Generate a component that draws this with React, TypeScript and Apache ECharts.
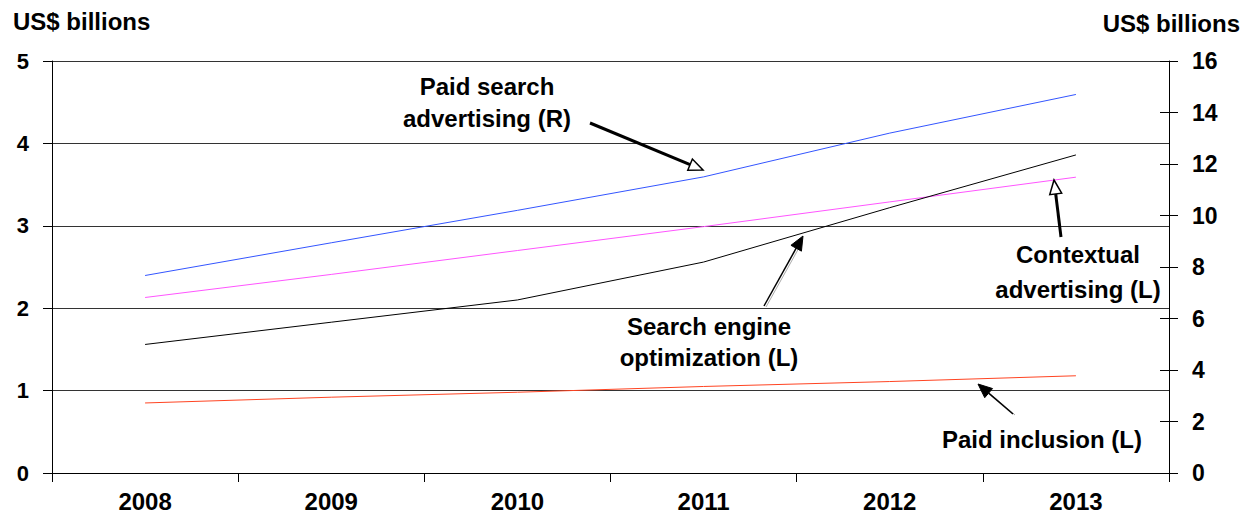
import React, { useEffect, useRef } from "react";
import * as echarts from "echarts";

const years = ["2008", "2009", "2010", "2011", "2012", "2013"];
const paidSearchR = [7.67, 8.94, 10.2, 11.5, 13.2, 14.7];
const contextualL = [2.13, 2.41, 2.7, 2.99, 3.29, 3.59];
const seoL = [1.56, 1.83, 2.1, 2.56, 3.22, 3.86];
const paidInclusionL = [0.85, 0.92, 0.98, 1.05, 1.11, 1.18];

const leftTitle = "US$ billions";
const rightTitle = "US$ billions";
const labelPaidSearch = "Paid search\nadvertising (R)";
const labelContextual = "Contextual\nadvertising (L)";
const labelSeo = "Search engine\noptimization (L)";
const labelPaidInclusion = "Paid inclusion (L)";

const FONT = "'Liberation Sans', Arial, Helvetica, sans-serif";

type Pt = [number, number];

function arrow(tail: Pt, tip: Pt, lw: number, headLen: number, headHalf: number, open: boolean, shadow?: boolean): any[] {
  const dx = tip[0] - tail[0];
  const dy = tip[1] - tail[1];
  const len = Math.sqrt(dx * dx + dy * dy);
  const ux = dx / len;
  const uy = dy / len;
  const px = -uy;
  const py = ux;
  const bx = tip[0] - ux * headLen;
  const by = tip[1] - uy * headLen;
  const els: any[] = [];
  if (shadow) {
    els.push({
      type: "line",
      shape: { x1: tail[0] + 2, y1: tail[1] + 1, x2: bx + 2, y2: by + 1 },
      style: { stroke: "#aaa", lineWidth: 1 },
      z: 99,
    });
  }
  els.push({
    type: "line",
    shape: { x1: tail[0], y1: tail[1], x2: bx, y2: by },
    style: { stroke: "#000", lineWidth: lw },
    z: 100,
  });
  els.push({
    type: "polygon",
    shape: {
      points: [
        [tip[0], tip[1]],
        [bx + px * headHalf, by + py * headHalf],
        [bx - px * headHalf, by - py * headHalf],
      ],
    },
    style: open
      ? { fill: "#fff", stroke: "#000", lineWidth: 1.5 }
      : { fill: "#000", stroke: "#000", lineWidth: 1 },
    z: 101,
  });
  return els;
}

function txt(x: number, y: number, text: string, size: number, align: string = "center", lh: number = 32): any {
  return {
    type: "text",
    x,
    y,
    z: 102,
    style: {
      text,
      fill: "#000",
      font: `bold ${size}px ${FONT}`,
      textAlign: align,
      textVerticalAlign: "middle",
      lineHeight: lh,
    },
  };
}

export default function App() {
  const ref = useRef<HTMLDivElement>(null);

  useEffect(() => {
    if (!ref.current) return;
    const chart = echarts.init(ref.current, undefined, { renderer: "svg" });
    const labelStyle = { fontFamily: FONT, fontWeight: "bold" as const, color: "#000" };

    const option: any = {
      animation: false,
      backgroundColor: "#fff",
      grid: { left: 52, right: 78, top: 61, bottom: 46, containLabel: false },
      xAxis: {
        type: "category",
        data: years,
        boundaryGap: true,
        axisLine: { show: true, lineStyle: { color: "#000", width: 1 } },
        axisTick: { show: true, alignWithLabel: false, length: 9, lineStyle: { color: "#000" } },
        axisLabel: { ...labelStyle, fontSize: 24, margin: 16 },
        splitLine: { show: false },
      },
      yAxis: [
        {
          type: "value",
          position: "left",
          min: 0,
          max: 5,
          interval: 1,
          axisLine: { show: true, lineStyle: { color: "#000", width: 1 } },
          axisTick: { show: true, inside: false, length: 9, lineStyle: { color: "#000" } },
          axisLabel: { ...labelStyle, fontSize: 22, margin: 23 },
          splitLine: { show: true, lineStyle: { color: "#333", width: 1 } },
        },
        {
          type: "value",
          position: "right",
          min: 0,
          max: 16,
          interval: 2,
          axisLine: { show: true, lineStyle: { color: "#000", width: 1 } },
          axisTick: { show: true, inside: false, length: 9, lineStyle: { color: "#000" } },
          axisLabel: { ...labelStyle, fontSize: 23, margin: 23 },
          splitLine: { show: false },
        },
        {
          type: "value",
          position: "right",
          min: 0,
          max: 16,
          interval: 2,
          axisLine: { show: false },
          axisTick: { show: true, inside: true, length: 9, lineStyle: { color: "#000" } },
          axisLabel: { show: false },
          splitLine: { show: false },
        },
      ],
      series: [
        {
          name: "Paid search advertising (R)",
          type: "line",
          yAxisIndex: 1,
          data: paidSearchR,
          symbol: "none",
          lineStyle: { color: "#3355ff", width: 1 },
        },
        {
          name: "Contextual advertising (L)",
          type: "line",
          yAxisIndex: 0,
          data: contextualL,
          symbol: "none",
          lineStyle: { color: "#ff55ff", width: 1 },
        },
        {
          name: "Search engine optimization (L)",
          type: "line",
          yAxisIndex: 0,
          data: seoL,
          symbol: "none",
          lineStyle: { color: "#000", width: 1 },
        },
        {
          name: "Paid inclusion (L)",
          type: "line",
          yAxisIndex: 0,
          data: paidInclusionL,
          symbol: "none",
          lineStyle: { color: "#ff4422", width: 1 },
        },
      ],
      graphic: [
        txt(13, 21, leftTitle, 24, "left"),
        txt(1240, 23, rightTitle, 24, "right"),
        txt(487, 102, labelPaidSearch, 24, "center", 32),
        txt(1078, 272, labelContextual, 24, "center", 35),
        txt(709, 342, labelSeo, 24, "center", 31),
        txt(1042, 439, labelPaidInclusion, 24),
        ...arrow([590, 123], [703, 170], 3, 14, 6, true),
        ...arrow([1061, 237], [1054, 180], 3, 14, 6, true),
        ...arrow([764, 306], [803, 236], 1.5, 14, 6, false, true),
        ...arrow([1013, 414], [978, 384], 1.5, 14, 6, false, true),
      ],
    };
    chart.setOption(option);
    return () => chart.dispose();
  }, []);

  return (
    <div
      ref={ref}
      style={{ position: "absolute", left: 0, top: 0, width: 1247, height: 519, background: "#fff" }}
    />
  );
}
